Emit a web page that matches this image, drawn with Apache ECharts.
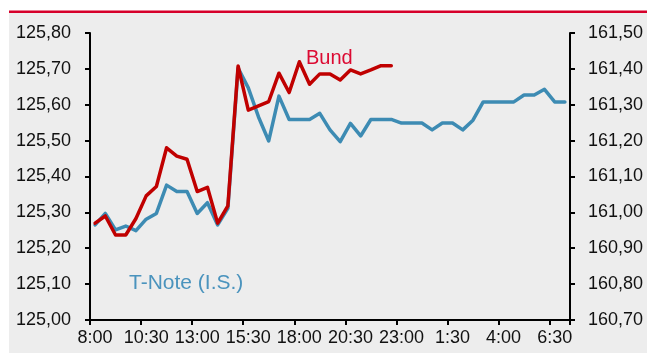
<!DOCTYPE html>
<html>
<head>
<meta charset="utf-8">
<style>
  html, body { margin: 0; padding: 0; background: #ffffff; }
  #chart { width: 647px; height: 353px; }
</style>
<script src="https://cdn.jsdelivr.net/npm/echarts@6/dist/echarts.min.js"></script>
</head>
<body>
<div id="chart"></div>
<script>
// Half-hourly session times, 8:00 through 7:00 the next morning
const times = [
  '8:00','8:30','9:00','9:30','10:00','10:30','11:00','11:30','12:00','12:30',
  '13:00','13:30','14:00','14:30','15:00','15:30','16:00','16:30','17:00','17:30',
  '18:00','18:30','19:00','19:30','20:00','20:30','21:00','21:30','22:00','22:30',
  '23:00','23:30','0:00','0:30','1:00','1:30','2:00','2:30','3:00','3:30',
  '4:00','4:30','5:00','5:30','6:00','6:30','7:00'
];

// T-Note future (left scale)
const tNote = [
  125.265, 125.297, 125.251, 125.262, 125.249, 125.281, 125.297, 125.376, 125.358, 125.358,
  125.297, 125.327, 125.265, 125.311, 125.702, 125.647, 125.566, 125.499, 125.624, 125.559,
  125.559, 125.559, 125.576, 125.530, 125.497, 125.548, 125.513, 125.559, 125.559, 125.559,
  125.549, 125.549, 125.549, 125.530, 125.549, 125.549, 125.530, 125.557, 125.608, 125.608,
  125.608, 125.608, 125.627, 125.627, 125.643, 125.608, 125.608
];

// Bund future (right scale), trading ends at 22:30
const bund = [
  160.970, 160.990, 160.937, 160.937, 160.983, 161.046, 161.072, 161.180, 161.157, 161.148,
  161.058, 161.070, 160.970, 161.018, 161.408, 161.285, 161.297, 161.309, 161.388, 161.334,
  161.420, 161.357, 161.386, 161.386, 161.369, 161.397, 161.386, 161.397, 161.409, 161.409
];

const leftRange = { min: 125.0, max: 125.8, step: 0.1 };
const rightRange = { min: 160.7, max: 161.5, step: 0.1 };

const FONT = '"Liberation Sans", Arial, sans-serif';
const BLUE = '#3d8bb3';
const RED = '#c00000';

const commaFmt = v => v.toFixed(2).replace('.', ',');

const axisLineStyle = { color: '#000000', width: 2 };

const chart = echarts.init(document.getElementById('chart'), null, { renderer: 'canvas' });

chart.setOption({
  animation: false,
  backgroundColor: 'transparent',
  graphic: [
    { type: 'rect', silent: true, z: -10, shape: { x: 9, y: 13, width: 640, height: 345 }, style: { fill: '#ededed' } },
    { type: 'rect', silent: true, z: -10, shape: { x: 9, y: 10.5, width: 640, height: 2.5 }, style: { fill: '#d6002a' } },
    { type: 'text', silent: true, left: 306, top: 48, style: { text: 'Bund', fill: '#dc0a32', font: '20px ' + FONT } },
    { type: 'text', silent: true, left: 129, top: 273, style: { text: 'T-Note (I.S.)', fill: '#4a93bd', font: '21px ' + FONT } }
  ],
  grid: { left: 90, right: 77, top: 33, bottom: 33, containLabel: false },
  xAxis: {
    type: 'category',
    data: times,
    boundaryGap: true,
    axisLine: { show: true, lineStyle: axisLineStyle },
    axisTick: { show: true, interval: 4, length: 5, inside: false, lineStyle: { color: '#000', width: 2 } },
    axisLabel: { interval: 4, color: '#111', fontFamily: FONT, fontSize: 18, margin: 9 },
    splitLine: { show: false }
  },
  yAxis: [
    {
      type: 'value', position: 'left',
      min: leftRange.min, max: leftRange.max, interval: leftRange.step,
      axisLine: { show: true, lineStyle: axisLineStyle },
      axisTick: { show: true, length: 5, lineStyle: { color: '#000', width: 2 } },
      axisLabel: { formatter: commaFmt, color: '#111', fontFamily: FONT, fontSize: 18, margin: 19 },
      splitLine: { show: false }
    },
    {
      type: 'value', position: 'right',
      min: rightRange.min, max: rightRange.max, interval: rightRange.step,
      axisLine: { show: true, lineStyle: axisLineStyle },
      axisTick: { show: true, length: 5, lineStyle: { color: '#000', width: 2 } },
      axisLabel: { formatter: commaFmt, color: '#111', fontFamily: FONT, fontSize: 18, margin: 18 },
      splitLine: { show: false }
    }
  ],
  series: [
    {
      name: 'T-Note', type: 'line', yAxisIndex: 0, data: tNote,
      showSymbol: false, symbol: 'none',
      lineStyle: { color: BLUE, width: 3.5, cap: 'round', join: 'round' },
      z: 2
    },
    {
      name: 'Bund', type: 'line', yAxisIndex: 1, data: bund,
      showSymbol: false, symbol: 'none',
      lineStyle: { color: RED, width: 3.5, cap: 'round', join: 'round' },
      z: 3
    }
  ]
});
</script>
</body>
</html>
